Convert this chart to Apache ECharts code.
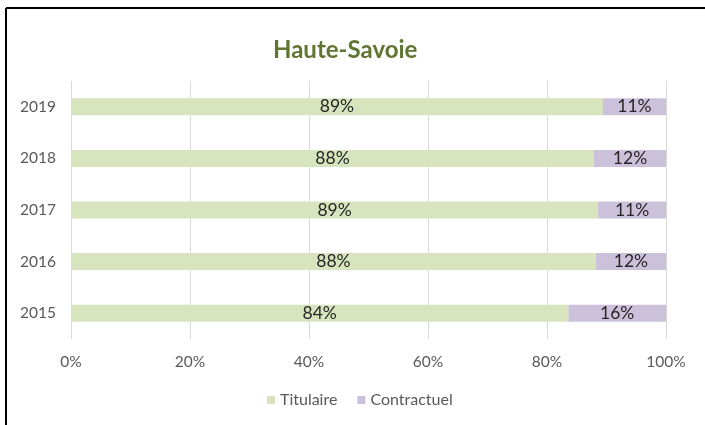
<!DOCTYPE html>
<html>
<head>
<meta charset="utf-8">
<script src="https://cdn.jsdelivr.net/npm/echarts@6/dist/echarts.min.js"></script>
<style>
html,body{margin:0;padding:0;background:#fff;}
#chart{width:705px;height:425px;}
</style>
</head>
<body>
<div id="chart"></div>
<script>
const categories = ['2015', '2016', '2017', '2018', '2019'];
const titulaire = [83.6, 88.2, 88.6, 87.9, 89.4];
const contractuel = [16.4, 11.8, 11.4, 12.1, 10.6];
const seriesNames = ['Titulaire', 'Contractuel'];
const xTicks = [0, 20, 40, 60, 80, 100];

const chart = echarts.init(document.getElementById('chart'), null, {renderer: 'canvas'});
const font = 'Lato, "Open Sans", sans-serif';
const labelOpt = {
  show: true,
  position: 'inside',
  color: '#262626',
  fontSize: 17.5,
  fontFamily: font,
  formatter: p => Math.round(p.value) + '%'
};
chart.setOption({
  animation: false,
  backgroundColor: '#fff',
  title: {
    text: 'Haute-Savoie',
    left: 268,
    top: 33,
    textStyle: {color: '#5F7530', fontSize: 24, fontWeight: 'bold', fontFamily: font}
  },
  legend: {
    data: seriesNames,
    bottom: 12,
    left: 262,
    icon: 'rect',
    itemWidth: 8,
    itemHeight: 8,
    itemGap: 20,
    textStyle: {color: '#595959', fontSize: 16, fontFamily: font}
  },
  grid: {left: 71, right: 39, top: 81, bottom: 86, containLabel: false},
  xAxis: {
    type: 'value',
    min: xTicks[0],
    max: xTicks[xTicks.length - 1],
    interval: 20,
    axisLine: {show: false},
    axisTick: {show: false},
    splitLine: {show: true, lineStyle: {color: '#D9D9D9', width: 1}},
    axisLabel: {color: '#595959', fontSize: 15.5, fontFamily: font, margin: 15, formatter: v => v + '%'}
  },
  yAxis: {
    type: 'category',
    data: categories,
    axisLine: {show: false},
    axisTick: {show: false},
    axisLabel: {color: '#595959', fontSize: 15.5, fontFamily: font, margin: 15}
  },
  series: [
    {name: seriesNames[0], type: 'bar', stack: 'total', data: titulaire, barWidth: 17,
     itemStyle: {color: '#D7E4BD'}, label: labelOpt},
    {name: seriesNames[1], type: 'bar', stack: 'total', data: contractuel, barWidth: 17,
     itemStyle: {color: '#CCC1DA'}, label: labelOpt}
  ],
  graphic: [
    {type: 'line', shape: {x1: 6, y1: 8, x2: 705, y2: 8}, style: {stroke: '#000', lineWidth: 2}, silent: true},
    {type: 'line', shape: {x1: 6, y1: 8, x2: 6, y2: 425}, style: {stroke: '#000', lineWidth: 2}, silent: true}
  ]
});
</script>
</body>
</html>
